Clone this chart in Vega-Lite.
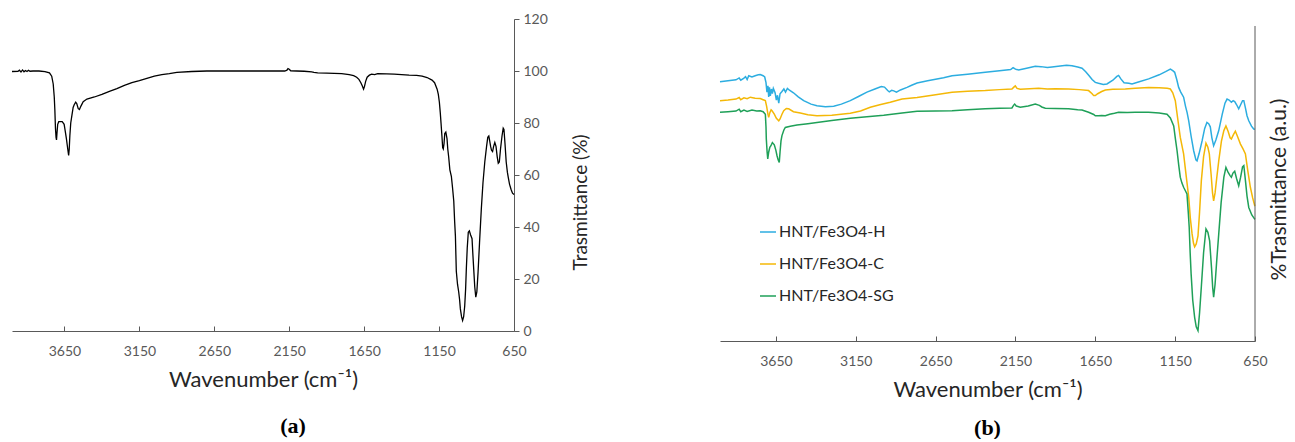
{
  "$schema": "https://vega.github.io/schema/vega-lite/v6.json",
  "padding": {"left": 9, "top": 12, "right": 5, "bottom": 0},
  "background": "white",
  "config": {
    "view": {"stroke": null},
    "font": "Lato",
    "axis": {"labelFont": "Lato", "titleFont": "Lato", "grid": false, "labelColor": "#595959", "labelFontSize": 14, "titleFontSize": 22, "titleFontWeight": "normal", "titleColor": "#262626", "domainColor": "#595959", "tickColor": "#595959", "labelFlush": false, "labelOverlap": false},
    "legend": {"labelFont": "Lato"}
  },
  "bounds": "flush",
  "spacing": 206,
  "resolve": {"scale": {"color": "independent"}, "legend": {"color": "independent"}},
  "datasets": {
    "a": [
      {"w":4000,"t":99.8},{"w":3960,"t":99.9},{"w":3950,"t":100.3},{"w":3940,"t":99.6},{"w":3930,"t":100.4},{"w":3920,"t":99.7},{"w":3910,"t":100.2},{"w":3900,"t":99.8},{"w":3890,"t":100.3},{"w":3880,"t":99.9},{"w":3860,"t":100},{"w":3820,"t":100},{"w":3780,"t":99.8},{"w":3750,"t":99.3},{"w":3735,"t":98},{"w":3725,"t":95},{"w":3718,"t":90},{"w":3714,"t":85},{"w":3710,"t":78},{"w":3706,"t":74.5},{"w":3703,"t":73.5},{"w":3700,"t":76},{"w":3695,"t":79.5},{"w":3688,"t":80.5},{"w":3665,"t":80.5},{"w":3652,"t":79.5},{"w":3645,"t":77},{"w":3637,"t":74},{"w":3628,"t":70},{"w":3622,"t":67.5},{"w":3618,"t":70},{"w":3614,"t":75},{"w":3608,"t":80},{"w":3600,"t":83},{"w":3592,"t":86},{"w":3585,"t":87},{"w":3575,"t":88},{"w":3568,"t":87.5},{"w":3558,"t":85.5},{"w":3550,"t":85.2},{"w":3540,"t":86.5},{"w":3525,"t":88.2},{"w":3500,"t":89.2},{"w":3450,"t":90},{"w":3400,"t":91},{"w":3350,"t":92.2},{"w":3300,"t":93.2},{"w":3250,"t":94.5},{"w":3200,"t":95.5},{"w":3150,"t":96.3},{"w":3100,"t":97.2},{"w":3050,"t":98},{"w":3000,"t":98.6},{"w":2950,"t":99},{"w":2900,"t":99.5},{"w":2800,"t":99.8},{"w":2700,"t":100},{"w":2500,"t":100},{"w":2300,"t":100},{"w":2180,"t":100},{"w":2165,"t":100.3},{"w":2158,"t":100.9},{"w":2150,"t":100.7},{"w":2140,"t":100.1},{"w":2100,"t":100},{"w":2050,"t":99.9},{"w":2000,"t":99.7},{"w":1985,"t":99.5},{"w":1960,"t":99.3},{"w":1900,"t":99.2},{"w":1850,"t":99.1},{"w":1800,"t":99},{"w":1750,"t":98.6},{"w":1720,"t":98.2},{"w":1700,"t":97.6},{"w":1685,"t":96.8},{"w":1672,"t":95.5},{"w":1662,"t":94.2},{"w":1654,"t":93},{"w":1648,"t":94},{"w":1640,"t":96},{"w":1630,"t":97.6},{"w":1615,"t":98.4},{"w":1600,"t":98.8},{"w":1580,"t":98.6},{"w":1560,"t":99},{"w":1500,"t":98.9},{"w":1450,"t":98.8},{"w":1400,"t":98.6},{"w":1350,"t":98.4},{"w":1300,"t":98.3},{"w":1263,"t":98},{"w":1230,"t":97.5},{"w":1197,"t":96.5},{"w":1180,"t":95.5},{"w":1163,"t":93},{"w":1155,"t":91},{"w":1148,"t":88},{"w":1142,"t":84},{"w":1137,"t":80},{"w":1131,"t":75},{"w":1126,"t":70.5},{"w":1122,"t":70},{"w":1117,"t":72},{"w":1112,"t":76},{"w":1105,"t":76.5},{"w":1097,"t":74},{"w":1092,"t":70},{"w":1086,"t":67},{"w":1078,"t":62},{"w":1068,"t":59.5},{"w":1060,"t":55},{"w":1052,"t":50},{"w":1046,"t":42},{"w":1041,"t":36.5},{"w":1035,"t":23},{"w":1027,"t":18},{"w":1019,"t":15},{"w":1013,"t":12},{"w":1008,"t":8.5},{"w":1000,"t":5.5},{"w":993,"t":4},{"w":986,"t":5.5},{"w":979,"t":9.5},{"w":973,"t":16},{"w":968,"t":24},{"w":962,"t":32},{"w":955,"t":38},{"w":948,"t":38.5},{"w":940,"t":37},{"w":930,"t":35.5},{"w":925,"t":30},{"w":919,"t":24},{"w":912,"t":17},{"w":905,"t":13},{"w":898,"t":15},{"w":890,"t":22.5},{"w":880,"t":34},{"w":868,"t":47},{"w":857,"t":57},{"w":845,"t":65},{"w":833,"t":71},{"w":825,"t":74.5},{"w":818,"t":75},{"w":812,"t":73},{"w":806,"t":71},{"w":800,"t":69.5},{"w":793,"t":69},{"w":786,"t":71},{"w":778,"t":72.5},{"w":770,"t":71},{"w":762,"t":67},{"w":755,"t":64.5},{"w":748,"t":65},{"w":740,"t":70},{"w":730,"t":75},{"w":722,"t":78},{"w":717,"t":77.5},{"w":710,"t":72},{"w":702,"t":65},{"w":694,"t":61},{"w":688,"t":59},{"w":680,"t":56.5},{"w":670,"t":54.5},{"w":660,"t":53},{"w":650,"t":52.5}
    ],
    "b": [
      {"s":"H","w":4000,"t":82.3},{"s":"H","w":3950,"t":82.6},{"s":"H","w":3900,"t":82.9},{"s":"H","w":3880,"t":83.5},{"s":"H","w":3870,"t":82.8},{"s":"H","w":3852,"t":83.4},{"s":"H","w":3840,"t":83.9},{"s":"H","w":3830,"t":83},{"s":"H","w":3820,"t":84.2},{"s":"H","w":3800,"t":83.8},{"s":"H","w":3780,"t":84.2},{"s":"H","w":3760,"t":84.5},{"s":"H","w":3748,"t":84.6},{"s":"H","w":3730,"t":84.2},{"s":"H","w":3720,"t":83.8},{"s":"H","w":3712,"t":82},{"s":"H","w":3706,"t":79},{"s":"H","w":3700,"t":81},{"s":"H","w":3695,"t":77.5},{"s":"H","w":3690,"t":80.5},{"s":"H","w":3685,"t":77.8},{"s":"H","w":3678,"t":80},{"s":"H","w":3672,"t":78.5},{"s":"H","w":3666,"t":80.2},{"s":"H","w":3655,"t":78.8},{"s":"H","w":3647,"t":76.5},{"s":"H","w":3640,"t":78},{"s":"H","w":3632,"t":75.5},{"s":"H","w":3624,"t":78.5},{"s":"H","w":3612,"t":79.2},{"s":"H","w":3600,"t":80},{"s":"H","w":3590,"t":79},{"s":"H","w":3578,"t":80.2},{"s":"H","w":3565,"t":79.6},{"s":"H","w":3540,"t":78.8},{"s":"H","w":3510,"t":77.5},{"s":"H","w":3476,"t":76.3},{"s":"H","w":3430,"t":75.2},{"s":"H","w":3393,"t":74.7},{"s":"H","w":3340,"t":74.4},{"s":"H","w":3288,"t":74.5},{"s":"H","w":3240,"t":75.2},{"s":"H","w":3184,"t":76.3},{"s":"H","w":3130,"t":77.7},{"s":"H","w":3080,"t":79},{"s":"H","w":3030,"t":80},{"s":"H","w":2990,"t":80.8},{"s":"H","w":2970,"t":80.6},{"s":"H","w":2950,"t":79.5},{"s":"H","w":2940,"t":79.1},{"s":"H","w":2925,"t":79.6},{"s":"H","w":2912,"t":79.4},{"s":"H","w":2895,"t":79},{"s":"H","w":2870,"t":79.7},{"s":"H","w":2829,"t":80.5},{"s":"H","w":2800,"t":81.2},{"s":"H","w":2766,"t":81.9},{"s":"H","w":2700,"t":82.6},{"s":"H","w":2600,"t":83.6},{"s":"H","w":2547,"t":84.2},{"s":"H","w":2450,"t":84.7},{"s":"H","w":2339,"t":85.3},{"s":"H","w":2250,"t":85.8},{"s":"H","w":2180,"t":86.2},{"s":"H","w":2165,"t":86.8},{"s":"H","w":2150,"t":86.3},{"s":"H","w":2130,"t":86},{"s":"H","w":2080,"t":86.6},{"s":"H","w":2026,"t":87.2},{"s":"H","w":1990,"t":87.1},{"s":"H","w":1950,"t":86.8},{"s":"H","w":1921,"t":87},{"s":"H","w":1870,"t":87.3},{"s":"H","w":1830,"t":87.5},{"s":"H","w":1796,"t":87.4},{"s":"H","w":1760,"t":87},{"s":"H","w":1733,"t":86.6},{"s":"H","w":1710,"t":85.5},{"s":"H","w":1690,"t":84.3},{"s":"H","w":1670,"t":83},{"s":"H","w":1650,"t":82.1},{"s":"H","w":1630,"t":81.8},{"s":"H","w":1600,"t":81.4},{"s":"H","w":1577,"t":81.6},{"s":"H","w":1540,"t":82.8},{"s":"H","w":1515,"t":84},{"s":"H","w":1504,"t":84.3},{"s":"H","w":1490,"t":83.2},{"s":"H","w":1470,"t":82},{"s":"H","w":1440,"t":81.8},{"s":"H","w":1420,"t":81.6},{"s":"H","w":1380,"t":82.2},{"s":"H","w":1316,"t":83.2},{"s":"H","w":1250,"t":84.5},{"s":"H","w":1210,"t":85.5},{"s":"H","w":1180,"t":86.3},{"s":"H","w":1165,"t":85.8},{"s":"H","w":1153,"t":85.3},{"s":"H","w":1140,"t":83},{"s":"H","w":1128,"t":80.5},{"s":"H","w":1115,"t":79},{"s":"H","w":1097,"t":77.4},{"s":"H","w":1085,"t":74.5},{"s":"H","w":1075,"t":72.5},{"s":"H","w":1065,"t":69.9},{"s":"H","w":1050,"t":65},{"s":"H","w":1034,"t":60.4},{"s":"H","w":1020,"t":57.5},{"s":"H","w":1013,"t":57.2},{"s":"H","w":1000,"t":59.5},{"s":"H","w":981,"t":63.6},{"s":"H","w":965,"t":67.5},{"s":"H","w":951,"t":69.4},{"s":"H","w":940,"t":69},{"s":"H","w":930,"t":68},{"s":"H","w":920,"t":64.5},{"s":"H","w":909,"t":62},{"s":"H","w":895,"t":63.8},{"s":"H","w":877,"t":66.8},{"s":"H","w":855,"t":72},{"s":"H","w":838,"t":75.5},{"s":"H","w":825,"t":76.8},{"s":"H","w":812,"t":76.5},{"s":"H","w":798,"t":75.8},{"s":"H","w":787,"t":76.3},{"s":"H","w":777,"t":76},{"s":"H","w":765,"t":75},{"s":"H","w":752,"t":73.7},{"s":"H","w":740,"t":75},{"s":"H","w":728,"t":76.3},{"s":"H","w":720,"t":76.3},{"s":"H","w":710,"t":74},{"s":"H","w":700,"t":71.5},{"s":"H","w":689,"t":69.9},{"s":"H","w":672,"t":68.2},{"s":"H","w":658,"t":67.3},{"s":"H","w":650,"t":67.2},
      {"s":"C","w":4000,"t":76.3},{"s":"C","w":3950,"t":76.5},{"s":"C","w":3900,"t":76.8},{"s":"C","w":3880,"t":77.3},{"s":"C","w":3870,"t":76.6},{"s":"C","w":3850,"t":77.2},{"s":"C","w":3830,"t":76.9},{"s":"C","w":3810,"t":77.4},{"s":"C","w":3780,"t":77.1},{"s":"C","w":3748,"t":77},{"s":"C","w":3730,"t":76.6},{"s":"C","w":3716,"t":76.3},{"s":"C","w":3708,"t":74.5},{"s":"C","w":3700,"t":72},{"s":"C","w":3695,"t":71},{"s":"C","w":3688,"t":72.5},{"s":"C","w":3680,"t":73.4},{"s":"C","w":3674,"t":73.1},{"s":"C","w":3660,"t":72},{"s":"C","w":3648,"t":70.8},{"s":"C","w":3640,"t":70.3},{"s":"C","w":3632,"t":69.9},{"s":"C","w":3624,"t":70.5},{"s":"C","w":3612,"t":72},{"s":"C","w":3601,"t":73.1},{"s":"C","w":3585,"t":73.8},{"s":"C","w":3570,"t":73.7},{"s":"C","w":3540,"t":72.8},{"s":"C","w":3497,"t":72.4},{"s":"C","w":3450,"t":71.8},{"s":"C","w":3393,"t":71.5},{"s":"C","w":3300,"t":71.7},{"s":"C","w":3184,"t":72.3},{"s":"C","w":3120,"t":73},{"s":"C","w":3059,"t":74.2},{"s":"C","w":3000,"t":75},{"s":"C","w":2934,"t":75.8},{"s":"C","w":2860,"t":76.8},{"s":"C","w":2766,"t":77.3},{"s":"C","w":2650,"t":78.2},{"s":"C","w":2547,"t":79},{"s":"C","w":2450,"t":79.3},{"s":"C","w":2339,"t":79.5},{"s":"C","w":2250,"t":79.8},{"s":"C","w":2172,"t":80},{"s":"C","w":2160,"t":80.6},{"s":"C","w":2151,"t":81},{"s":"C","w":2140,"t":80.2},{"s":"C","w":2120,"t":79.9},{"s":"C","w":2060,"t":80.1},{"s":"C","w":2005,"t":80.2},{"s":"C","w":1950,"t":80},{"s":"C","w":1900,"t":80.1},{"s":"C","w":1817,"t":80},{"s":"C","w":1750,"t":79.8},{"s":"C","w":1692,"t":79.5},{"s":"C","w":1670,"t":78.5},{"s":"C","w":1660,"t":77.9},{"s":"C","w":1650,"t":77.9},{"s":"C","w":1635,"t":78.5},{"s":"C","w":1610,"t":79.2},{"s":"C","w":1587,"t":79.7},{"s":"C","w":1540,"t":79.9},{"s":"C","w":1462,"t":80},{"s":"C","w":1400,"t":80.2},{"s":"C","w":1316,"t":80.5},{"s":"C","w":1250,"t":80.4},{"s":"C","w":1200,"t":80.2},{"s":"C","w":1180,"t":80},{"s":"C","w":1165,"t":78.8},{"s":"C","w":1149,"t":76.3},{"s":"C","w":1135,"t":71},{"s":"C","w":1118,"t":64.7},{"s":"C","w":1097,"t":59.4},{"s":"C","w":1080,"t":52},{"s":"C","w":1065,"t":45.6},{"s":"C","w":1055,"t":39},{"s":"C","w":1044,"t":34},{"s":"C","w":1035,"t":31},{"s":"C","w":1028,"t":29.9},{"s":"C","w":1018,"t":30.8},{"s":"C","w":1007,"t":33.4},{"s":"C","w":997,"t":41},{"s":"C","w":986,"t":50.9},{"s":"C","w":972,"t":58.5},{"s":"C","w":957,"t":62.8},{"s":"C","w":945,"t":61.5},{"s":"C","w":936,"t":59.4},{"s":"C","w":925,"t":53},{"s":"C","w":916,"t":47},{"s":"C","w":909,"t":44.5},{"s":"C","w":900,"t":47},{"s":"C","w":889,"t":52},{"s":"C","w":877,"t":57.2},{"s":"C","w":860,"t":63.5},{"s":"C","w":845,"t":66.8},{"s":"C","w":832,"t":68.3},{"s":"C","w":818,"t":66.5},{"s":"C","w":806,"t":64.5},{"s":"C","w":798,"t":64.1},{"s":"C","w":785,"t":65.5},{"s":"C","w":773,"t":66.6},{"s":"C","w":760,"t":65},{"s":"C","w":741,"t":62.5},{"s":"C","w":725,"t":61},{"s":"C","w":710,"t":59.4},{"s":"C","w":695,"t":54},{"s":"C","w":679,"t":48.8},{"s":"C","w":665,"t":45.5},{"s":"C","w":652,"t":43},{"s":"C","w":650,"t":42.8},
      {"s":"SG","w":4000,"t":72.6},{"s":"SG","w":3950,"t":72.8},{"s":"SG","w":3900,"t":73},{"s":"SG","w":3880,"t":73.6},{"s":"SG","w":3870,"t":72.8},{"s":"SG","w":3850,"t":73.3},{"s":"SG","w":3830,"t":72.9},{"s":"SG","w":3800,"t":73.3},{"s":"SG","w":3770,"t":73},{"s":"SG","w":3748,"t":73.1},{"s":"SG","w":3730,"t":72.8},{"s":"SG","w":3716,"t":72},{"s":"SG","w":3712,"t":68},{"s":"SG","w":3710,"t":64.1},{"s":"SG","w":3705,"t":60},{"s":"SG","w":3701,"t":57.8},{"s":"SG","w":3695,"t":60},{"s":"SG","w":3688,"t":61.5},{"s":"SG","w":3681,"t":62},{"s":"SG","w":3672,"t":63},{"s":"SG","w":3660,"t":62.3},{"s":"SG","w":3650,"t":60.5},{"s":"SG","w":3643,"t":58.8},{"s":"SG","w":3636,"t":57.5},{"s":"SG","w":3629,"t":56.7},{"s":"SG","w":3624,"t":60},{"s":"SG","w":3618,"t":63.5},{"s":"SG","w":3612,"t":65.2},{"s":"SG","w":3600,"t":67},{"s":"SG","w":3591,"t":67.8},{"s":"SG","w":3560,"t":68.2},{"s":"SG","w":3518,"t":68.6},{"s":"SG","w":3450,"t":69},{"s":"SG","w":3393,"t":69.4},{"s":"SG","w":3300,"t":70},{"s":"SG","w":3184,"t":70.7},{"s":"SG","w":3080,"t":71.2},{"s":"SG","w":2975,"t":71.7},{"s":"SG","w":2860,"t":72.4},{"s":"SG","w":2766,"t":72.9},{"s":"SG","w":2650,"t":73},{"s":"SG","w":2547,"t":73.1},{"s":"SG","w":2450,"t":73.4},{"s":"SG","w":2339,"t":73.7},{"s":"SG","w":2250,"t":73.9},{"s":"SG","w":2172,"t":74},{"s":"SG","w":2162,"t":74.8},{"s":"SG","w":2155,"t":75.2},{"s":"SG","w":2145,"t":74.6},{"s":"SG","w":2120,"t":74.2},{"s":"SG","w":2070,"t":74.6},{"s":"SG","w":2026,"t":75.2},{"s":"SG","w":2000,"t":74.8},{"s":"SG","w":1985,"t":74.3},{"s":"SG","w":1963,"t":73.9},{"s":"SG","w":1900,"t":73.8},{"s":"SG","w":1817,"t":73.7},{"s":"SG","w":1760,"t":73.4},{"s":"SG","w":1733,"t":73.3},{"s":"SG","w":1692,"t":72.6},{"s":"SG","w":1660,"t":71.9},{"s":"SG","w":1650,"t":71.5},{"s":"SG","w":1630,"t":71.5},{"s":"SG","w":1610,"t":71.6},{"s":"SG","w":1587,"t":71.5},{"s":"SG","w":1560,"t":72},{"s":"SG","w":1530,"t":72.3},{"s":"SG","w":1504,"t":72.6},{"s":"SG","w":1450,"t":72.5},{"s":"SG","w":1400,"t":72.6},{"s":"SG","w":1316,"t":72.6},{"s":"SG","w":1250,"t":72.4},{"s":"SG","w":1201,"t":72},{"s":"SG","w":1180,"t":70.8},{"s":"SG","w":1159,"t":68.3},{"s":"SG","w":1148,"t":64},{"s":"SG","w":1138,"t":60.4},{"s":"SG","w":1128,"t":56},{"s":"SG","w":1118,"t":52},{"s":"SG","w":1108,"t":50.2},{"s":"SG","w":1097,"t":48.8},{"s":"SG","w":1086,"t":47.7},{"s":"SG","w":1076,"t":46.7},{"s":"SG","w":1068,"t":41},{"s":"SG","w":1062,"t":36.1},{"s":"SG","w":1056,"t":28},{"s":"SG","w":1050,"t":21.3},{"s":"SG","w":1040,"t":13},{"s":"SG","w":1028,"t":7.5},{"s":"SG","w":1018,"t":4.5},{"s":"SG","w":1007,"t":3.3},{"s":"SG","w":997,"t":9},{"s":"SG","w":986,"t":17.2},{"s":"SG","w":972,"t":28},{"s":"SG","w":957,"t":35.6},{"s":"SG","w":945,"t":34.5},{"s":"SG","w":934,"t":31.8},{"s":"SG","w":922,"t":23},{"s":"SG","w":915,"t":17},{"s":"SG","w":909,"t":13.9},{"s":"SG","w":900,"t":18},{"s":"SG","w":889,"t":26},{"s":"SG","w":877,"t":34},{"s":"SG","w":862,"t":44},{"s":"SG","w":845,"t":52},{"s":"SG","w":832,"t":55.1},{"s":"SG","w":818,"t":53.5},{"s":"SG","w":806,"t":52.5},{"s":"SG","w":798,"t":52},{"s":"SG","w":788,"t":53.3},{"s":"SG","w":777,"t":53.9},{"s":"SG","w":765,"t":51.5},{"s":"SG","w":752,"t":49.3},{"s":"SG","w":740,"t":52},{"s":"SG","w":728,"t":55.3},{"s":"SG","w":720,"t":55.7},{"s":"SG","w":710,"t":51},{"s":"SG","w":700,"t":46},{"s":"SG","w":689,"t":42.4},{"s":"SG","w":670,"t":40},{"s":"SG","w":652,"t":38.7},{"s":"SG","w":650,"t":38.6}
    ]
  },
  "hconcat": [
    {
      "width": 502,
      "height": 312,
      "data": {"name": "a"},
      "title": {"text": "(a)", "orient": "bottom", "font": "Liberation Serif", "fontSize": 22, "fontWeight": "bold", "color": "#000000", "offset": 26, "dx": 30},
      "mark": {"type": "line", "color": "#000000", "strokeWidth": 1.3},
      "encoding": {
        "x": {"field": "w", "type": "quantitative", "scale": {"domain": [650, 4000], "reverse": true, "nice": false, "zero": false},
              "axis": {"values": [3650, 3150, 2650, 2150, 1650, 1150, 650], "format": "d", "tickSize": -5, "labelPadding": 18, "title": "Wavenumber (cm⁻¹)", "titlePadding": 11}},
        "y": {"field": "t", "type": "quantitative", "scale": {"domain": [0, 120], "nice": false},
              "axis": {"orient": "right", "values": [0, 20, 40, 60, 80, 100, 120], "tickSize": 5, "labelPadding": 4, "title": "Trasmittance (%)", "titleFontSize": 19, "titleAngle": 270, "titleX": 66, "titleY": 183, "titleBaseline": "middle", "titleAlign": "center"}}
      }
    },
    {
      "width": 535,
      "height": 322,
      "title": {"text": "(b)", "orient": "bottom", "font": "Liberation Serif", "fontSize": 22, "fontWeight": "bold", "color": "#000000", "offset": 18},
      "layer": [
        {
          "data": {"name": "b"},
          "mark": {"type": "line", "strokeWidth": 1.5},
          "encoding": {
            "x": {"field": "w", "type": "quantitative", "scale": {"domain": [650, 4000], "reverse": true, "nice": false, "zero": false},
                  "axis": {"values": [3650, 3150, 2650, 2150, 1650, 1150, 650], "format": "d", "tickSize": -5, "labelPadding": 18, "title": "Wavenumber (cm⁻¹)", "titlePadding": 11}},
            "y": {"field": "t", "type": "quantitative", "scale": {"domain": [0, 102.22], "nice": false},
                  "axis": {"orient": "right", "domain": false, "ticks": false, "labels": false, "title": "%Trasmittance (a.u.)", "titleFontSize": 21, "titleAngle": 270, "titleX": 24, "titleY": 170, "titleBaseline": "middle", "titleAlign": "center"}},
            "color": {"field": "s", "type": "nominal",
                      "scale": {"domain": ["H", "C", "SG"], "range": ["#2CADE0", "#F4B807", "#1FA058"]},
                      "legend": {"title": null, "orient": "none", "legendX": 39, "legendY": 204, "symbolType": "stroke", "symbolSize": 256, "symbolStrokeWidth": 1.5, "labelFontSize": 16, "labelColor": "#262626", "rowPadding": 15, "labelOffset": 2, "labelExpr": "'HNT/Fe3O4-' + datum.label"}}
          }
        },
        {
          "data": {"values": [{}]},
          "mark": {"type": "rule", "color": "#595959", "strokeWidth": 1},
          "encoding": {"x": {"datum": 650}, "y": {"datum": 0}, "y2": {"datum": 100}}
        }
      ]
    }
  ]
}
